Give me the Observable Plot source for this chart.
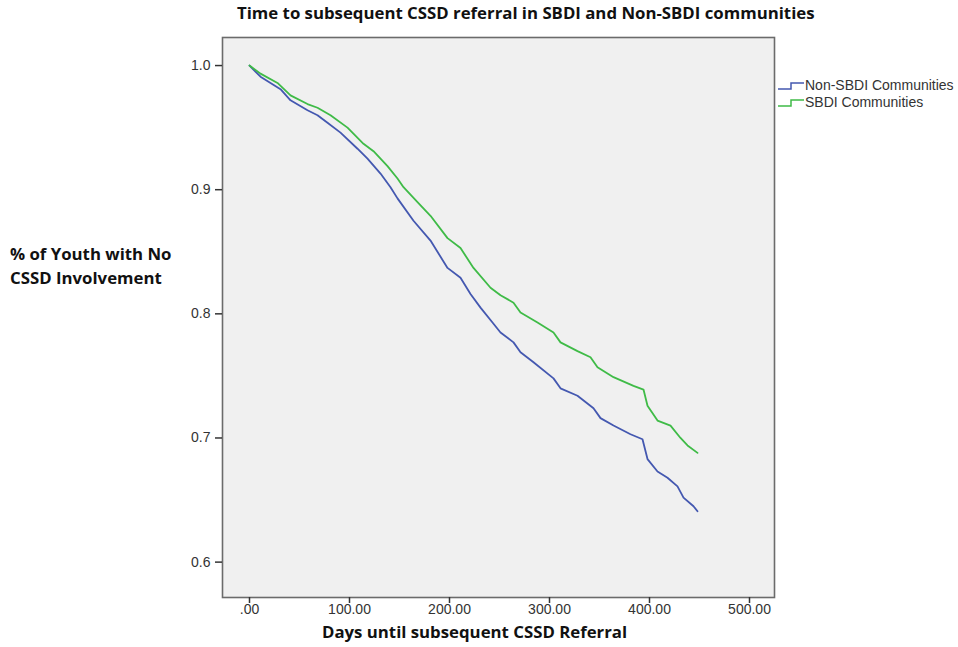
<!DOCTYPE html>
<html>
<head>
<meta charset="utf-8">
<script src="https://cdn.jsdelivr.net/npm/d3@7"></script>
<script src="https://cdn.jsdelivr.net/npm/@observablehq/plot@0.6"></script>
<style>
  html, body { margin: 0; padding: 0; background: #fff; }
  #wrap { position: relative; width: 958px; height: 647px; overflow: hidden; }
  .lbl { position: absolute; font-family: "Open Sans", Lato, sans-serif; font-weight: bold; color: #111; white-space: nowrap; line-height: 1.2; }
  .leg { position: absolute; font-family: "Liberation Sans", Arial, sans-serif; font-size: 14px; color: #333; white-space: nowrap; line-height: 16px; }
  .leg svg { vertical-align: middle; margin-right: 1px; }
</style>
</head>
<body>
<div id="wrap"></div>
<script>
// Title and labels
const titleText = "Time to subsequent CSSD referral in SBDI and Non-SBDI communities";
const xLabel = "Days until subsequent CSSD Referral";
const yLabelLines = ["% of Youth with No", "CSSD Involvement"];
const seriesNames = ["Non-SBDI Communities", "SBDI Communities"];
const seriesColors = ["#4458b0", "#3fbb47"];

// Axis ticks
const xTicks = [0, 100, 200, 300, 400, 500];
const yTicks = [0.6, 0.7, 0.8, 0.9, 1.0];

// Non-SBDI Communities (days, survival proportion)
const nonDays = [0, 11, 31, 41, 58, 68, 78, 91, 108, 118, 131, 141, 148, 164, 181, 198, 211, 221, 231, 244, 251, 264, 271, 284, 304, 311, 328, 344, 351, 364, 381, 393, 398, 408, 418, 428, 434, 444, 448];
const nonVals = [1.0, 0.991, 0.981, 0.972, 0.964, 0.960, 0.954, 0.946, 0.933, 0.925, 0.913, 0.902, 0.893, 0.875, 0.859, 0.837, 0.829, 0.816, 0.805, 0.792, 0.785, 0.777, 0.769, 0.761, 0.748, 0.740, 0.734, 0.724, 0.716, 0.710, 0.703, 0.699, 0.683, 0.673, 0.668, 0.661, 0.652, 0.645, 0.641];

// SBDI Communities
const sbdiDays = [0, 11, 28, 41, 58, 68, 81, 98, 114, 124, 138, 148, 154, 168, 181, 198, 211, 224, 241, 251, 264, 271, 288, 304, 311, 328, 341, 348, 364, 384, 394, 398, 408, 421, 431, 438, 448];
const sbdiVals = [1.0, 0.9935, 0.986, 0.976, 0.969, 0.966, 0.960, 0.950, 0.937, 0.931, 0.919, 0.909, 0.902, 0.890, 0.879, 0.861, 0.853, 0.837, 0.821, 0.815, 0.809, 0.801, 0.793, 0.785, 0.777, 0.770, 0.765, 0.757, 0.749, 0.742, 0.739, 0.726, 0.714, 0.710, 0.700, 0.694, 0.688];

const data = [
  ...nonDays.map((d, i) => ({day: d, value: nonVals[i], group: seriesNames[0]})),
  ...sbdiDays.map((d, i) => ({day: d, value: sbdiVals[i], group: seriesNames[1]}))
];

const xFmt = d => d === 0 ? ".00" : d.toFixed(2);
const yFmt = d => d.toFixed(1);

const chart = Plot.plot({
  width: 958,
  height: 647,
  marginLeft: 222,
  marginRight: 184,
  marginTop: 37,
  marginBottom: 50,
  style: {fontFamily: "'Liberation Sans', Arial, sans-serif", fontSize: "14px", color: "#333", background: "transparent"},
  x: {domain: [-27, 525], label: null},
  y: {domain: [0.5715, 1.0226], label: null},
  color: {domain: seriesNames, range: seriesColors},
  marks: [
    Plot.frame({fill: "#f0f0f0", stroke: "none"}),
    Plot.line(data, {x: "day", y: "value", z: "group", stroke: "group", strokeWidth: 1.8, curve: "linear"}),
    Plot.frame({stroke: "#6b6b6b", strokeWidth: 1.6}),
    Plot.axisX({ticks: xTicks, tickFormat: xFmt, tickSize: 6, tickPadding: 1, label: null, stroke: "#333", strokeWidth: 1.5}),
    Plot.axisY({ticks: yTicks, tickFormat: yFmt, tickSize: 7, tickPadding: 5, label: null, stroke: "#333", strokeWidth: 1.5})
  ]
});

const wrap = document.getElementById("wrap");
chart.style.position = "absolute";
chart.style.left = "0px";
chart.style.top = "0px";
wrap.appendChild(chart);

function addLabel(text, css, cls) {
  const el = document.createElement("div");
  el.className = cls || "lbl";
  el.textContent = text;
  Object.assign(el.style, css);
  wrap.appendChild(el);
  return el;
}

addLabel(titleText, {left: "237px", top: "3px", fontSize: "16.8px"});
addLabel(xLabel, {left: "322px", top: "622px", fontSize: "16.8px"});
addLabel(yLabelLines[0], {left: "10px", top: "244px", fontSize: "16.8px"});
addLabel(yLabelLines[1], {left: "10px", top: "268px", fontSize: "16.8px"});

// Legend
seriesNames.forEach((name, i) => {
  const el = document.createElement("div");
  el.className = "leg";
  el.style.left = "777px";
  el.style.top = (77 + i * 17) + "px";
  el.innerHTML = `<svg width="27" height="12"><path d="M1,9 H14 V3 H27" fill="none" stroke="${seriesColors[i]}" stroke-width="1.5"/></svg>`;
  el.appendChild(document.createTextNode(name));
  wrap.appendChild(el);
});
</script>
</body>
</html>
